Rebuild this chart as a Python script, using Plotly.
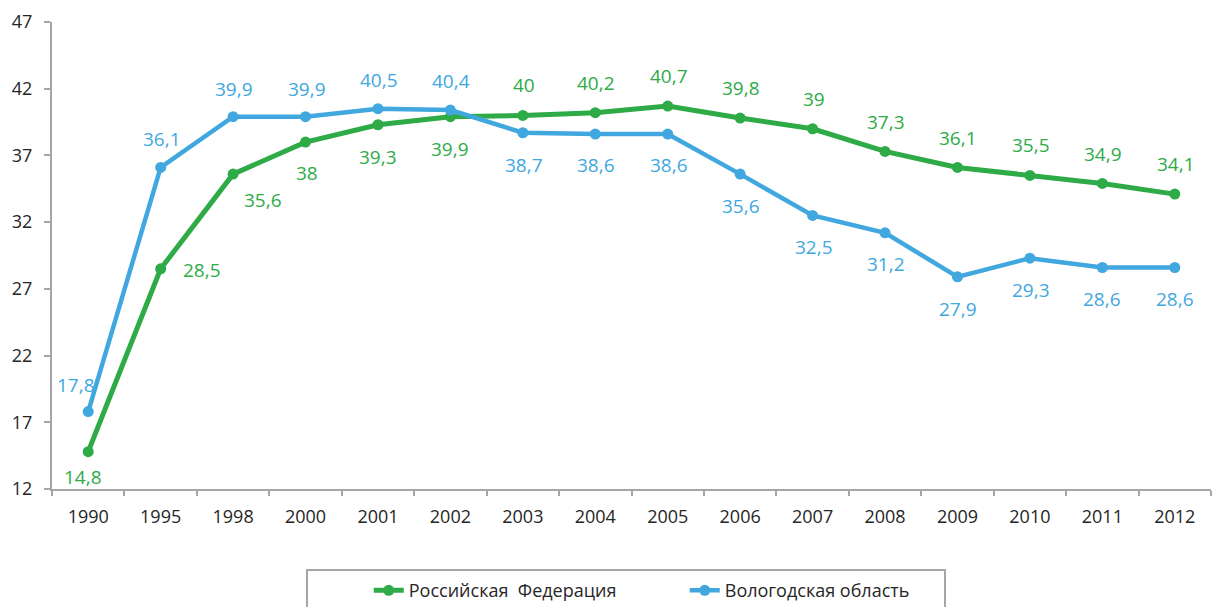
import plotly.graph_objects as go

years = ["1990", "1995", "1998", "2000", "2001", "2002", "2003", "2004",
         "2005", "2006", "2007", "2008", "2009", "2010", "2011", "2012"]
russia = [14.8, 28.5, 35.6, 38.0, 39.3, 39.9, 40.0, 40.2,
          40.7, 39.8, 39.0, 37.3, 36.1, 35.5, 34.9, 34.1]
vologda = [17.8, 36.1, 39.9, 39.9, 40.5, 40.4, 38.7, 38.6,
           38.6, 35.6, 32.5, 31.2, 27.9, 29.3, 28.6, 28.6]
series_names = ["Российская  Федерация", "Вологодская область"]

GREEN = "#2EAB47"
BLUE = "#41A7DF"
FONT = "Open Sans"

# label offsets (px) relative to each point: (xshift, yshift up-positive)
green_shift = [(-5, -25), (41, -1), (30, -26), (1, -31), (0, -32), (0, -32),
               (1, 30), (1, 30), (1, 30), (1, 30), (1, 30), (1, 29),
               (1, 29), (1, 30), (1, 29), (1, 30)]
blue_shift = [(-12, 27), (1, 28), (1, 28), (1, 28), (1, 29), (1, 29),
              (1, -32), (1, -31), (1, -31), (1, -32), (1, -32), (1, -31),
              (1, -32), (1, -32), (0, -31), (0, -31)]


def fmt(v):
    s = ("%.1f" % v).rstrip("0").rstrip(".")
    return s.replace(".", ",")


fig = go.Figure()
fig.add_trace(go.Scatter(
    x=years, y=russia, name=series_names[0], mode="lines+markers",
    line=dict(color=GREEN, width=5), marker=dict(size=11, color=GREEN),
))
fig.add_trace(go.Scatter(
    x=years, y=vologda, name=series_names[1], mode="lines+markers",
    line=dict(color=BLUE, width=4.5), marker=dict(size=11, color=BLUE),
))

annotations = []
for vals, shifts, col in ((russia, green_shift, GREEN), (vologda, blue_shift, BLUE)):
    for i, (v, (dx, dy)) in enumerate(zip(vals, shifts)):
        annotations.append(dict(
            x=i, y=v, text=fmt(v), showarrow=False, xref="x", yref="y",
            xshift=dx, yshift=dy, font=dict(family=FONT, size=19, color=col),
        ))

fig.update_layout(
    width=1213, height=607,
    margin=dict(l=52, r=2, t=22, b=118, autoexpand=False),
    paper_bgcolor="white", plot_bgcolor="white",
    font=dict(family=FONT, size=18, color="#262626"),
    annotations=annotations,
    showlegend=True,
    legend=dict(
        orientation="h", x=0.2733, y=-0.178, xanchor="left", yanchor="top",
        font=dict(family=FONT, size=18, color="#262626"),
        entrywidth=271, entrywidthmode="pixels",
        bgcolor="rgba(0,0,0,0)",
    ),
    shapes=[dict(
        type="rect", xref="paper", yref="paper",
        x0=(307 - 52) / 1159, x1=(945 - 52) / 1159,
        y0=-0.30, y1=-(570 - 489) / 467,
        line=dict(color="#A6A6A6", width=2), fillcolor="rgba(0,0,0,0)",
    )],
)
fig.update_xaxes(
    type="category", range=[-0.5, len(years) - 0.5],
    showgrid=False, showline=True, linecolor="#A6A6A6",
    linewidth=2, ticks="outside", tickson="boundaries", ticklen=5,
    tickcolor="#A6A6A6", tickwidth=2, ticklabelstandoff=10, tickangle=0,
    tickfont=dict(family=FONT, size=18, color="#262626"),
)
fig.update_yaxes(
    range=[12, 47], tick0=12, dtick=5, showgrid=False, zeroline=False,
    showline=True, linecolor="#A6A6A6", linewidth=2, ticks="outside",
    ticklen=6, tickcolor="#A6A6A6", tickwidth=2, ticklabelstandoff=8,
    tickfont=dict(family=FONT, size=18, color="#262626"),
)

fig.write_html(
    "out.html",
    config={"displayModeBar": False},
    post_script="document.body.style.margin='0px';document.body.style.overflow='hidden';",
)
